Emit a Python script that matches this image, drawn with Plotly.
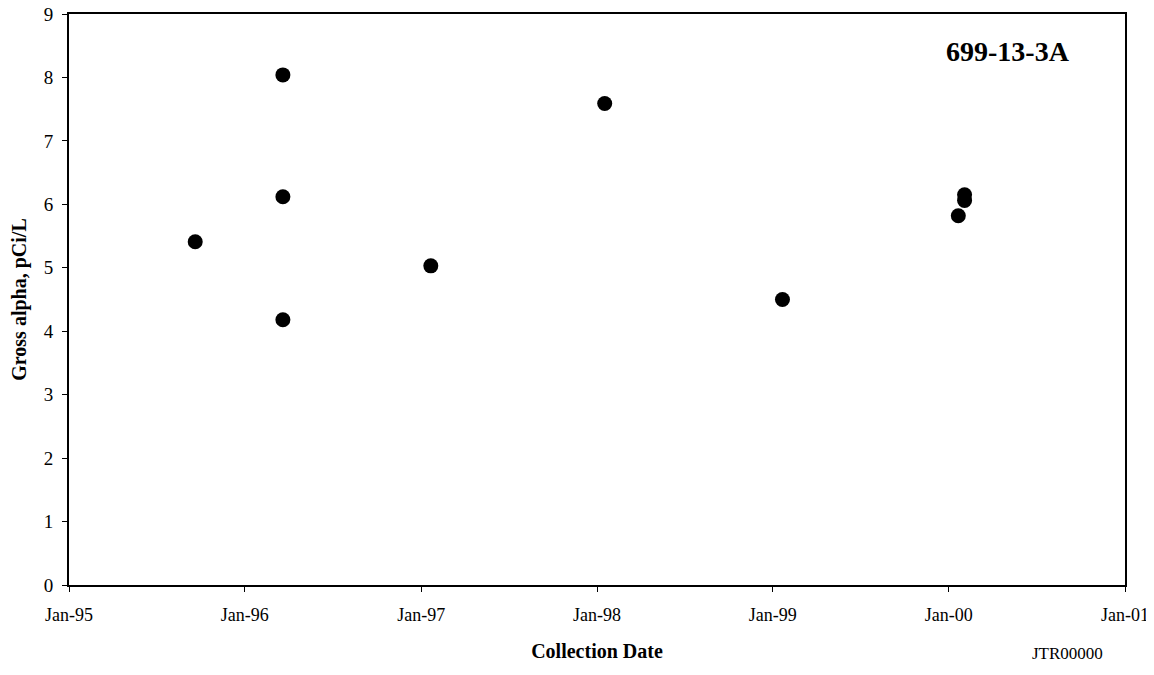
import plotly.graph_objects as go

dates = ["1995-09-20", "1996-03-20", "1996-03-20", "1996-03-20", "1997-01-21",
         "1998-01-17", "1999-01-21", "2000-01-21", "2000-02-03", "2000-02-03"]
gross_alpha = [5.41, 8.04, 6.12, 4.18, 5.03, 7.59, 4.50, 5.82, 6.06, 6.15]

tick_vals = ["1995-01-01", "1996-01-01", "1997-01-01", "1998-01-01",
             "1999-01-01", "2000-01-01", "2001-01-01"]
tick_text = ["Jan-95", "Jan-96", "Jan-97", "Jan-98", "Jan-99", "Jan-00", "Jan-01"]

font = "Liberation Serif, Times New Roman, serif"

# page body has an 8px default margin, so the figure is offset by (8, 8)
L, R, T, B = 61, 37, 6, 98
W, H = 1154, 675
pw, ph = W - L - R, H - T - B

fig = go.Figure(go.Scatter(
    x=dates, y=gross_alpha, mode="markers",
    marker=dict(color="black", size=15, line=dict(width=0)),
    showlegend=False,
))

fig.update_layout(
    width=W, height=H,
    margin=dict(l=L, r=R, t=T, b=B),
    paper_bgcolor="white", plot_bgcolor="white",
    font=dict(family=font, color="black", size=18),
    xaxis=dict(
        range=["1995-01-01", "2001-01-01"],
        tickvals=tick_vals, ticktext=tick_text,
        showgrid=False, zeroline=False, automargin=False,
        showline=True, linecolor="black", linewidth=2, mirror=True,
        ticks="outside", ticklen=5, tickcolor="black", tickwidth=1,
        ticklabelstandoff=7, ticklabeloverflow="allow",
        tickfont=dict(family=font, size=18, color="black"),
        title=dict(text="<b>Collection Date</b>", standoff=20,
                   font=dict(family=font, size=20)),
    ),
    yaxis=dict(
        range=[0, 9], dtick=1,
        showgrid=False, zeroline=False, automargin=False,
        showline=True, linecolor="black", linewidth=2, mirror=True,
        ticks="outside", ticklen=5, tickcolor="black", tickwidth=1,
        ticklabelstandoff=5, ticklabeloverflow="allow",
        tickfont=dict(family=font, size=19, color="black"),
        title=dict(text="<b>Gross alpha, pCi/L</b>", standoff=12,
                   font=dict(family=font, size=20)),
    ),
    annotations=[
        dict(text="<b>699-13-3A</b>", x=(1064 - L) / pw, y=(H - B - 43) / ph,
             xref="paper", yref="paper", xanchor="right", yanchor="middle",
             showarrow=False, font=dict(family=font, size=28, color="black")),
        dict(text="JTR00000", x=(1059 - L) / pw, y=(H - B - 645) / ph,
             xref="paper", yref="paper", xanchor="center", yanchor="middle",
             showarrow=False, font=dict(family=font, size=17, color="black")),
    ],
)

fig.write_html("out.html")
